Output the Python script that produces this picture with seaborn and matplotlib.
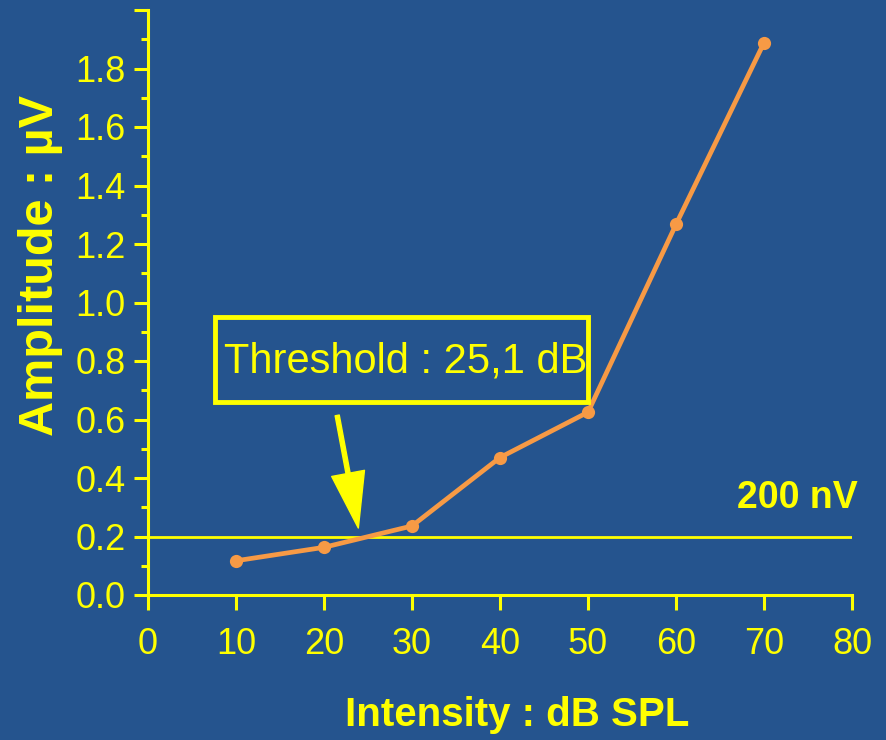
import matplotlib
matplotlib.use("Agg")
import matplotlib.pyplot as plt
import seaborn as sns
import pandas as pd
from matplotlib.patches import Rectangle
from matplotlib.ticker import MultipleLocator

# data
intensity = [10, 20, 30, 40, 50, 60, 70]
amplitude = [0.117, 0.163, 0.236, 0.47, 0.625, 1.267, 1.888]
x_ticks = [0, 10, 20, 30, 40, 50, 60, 70, 80]
y_ticks = [0.0, 0.2, 0.4, 0.6, 0.8, 1.0, 1.2, 1.4, 1.6, 1.8]
criterion = 0.2
threshold_db = 25.1

bg = '#25548e'
yellow = '#ffff00'
orange = '#f79a45'

sns.set_theme(style='ticks')
plt.rcParams['font.family'] = ['Liberation Sans', 'DejaVu Sans']

df = pd.DataFrame({'intensity': intensity, 'amplitude': amplitude})

fig = plt.figure(figsize=(8.86, 7.40), dpi=100, facecolor=bg)
ax = fig.add_axes([148 / 886, 145 / 740, 704 / 886, 585 / 740])
ax.set_facecolor(bg)

ax.axhline(criterion, color=yellow, lw=2.0, zorder=1)
sns.lineplot(data=df, x='intensity', y='amplitude', ax=ax, color=orange,
             lw=3.4, marker='o', markersize=9.5, markeredgewidth=0, zorder=3)

ax.set_xlim(0, 80)
ax.set_ylim(0, 2.0)
ax.set_xticks(x_ticks)
ax.set_xticklabels([str(t) for t in x_ticks])
ax.set_yticks(y_ticks + [2.0])
ax.set_yticklabels([f'{t:.1f}' for t in y_ticks] + [''])
ax.yaxis.set_minor_locator(MultipleLocator(0.1))

for side in ['top', 'right']:
    ax.spines[side].set_visible(False)
for side in ['left', 'bottom']:
    ax.spines[side].set_color(yellow)
    ax.spines[side].set_linewidth(2.2)

ax.tick_params(axis='both', which='major', colors=yellow, width=2.2,
               labelsize=26, labelcolor=yellow)
ax.tick_params(axis='y', which='major', length=10, pad=6)
ax.tick_params(axis='y', which='minor', length=5, width=2.2, colors=yellow)
ax.tick_params(axis='x', which='major', length=11, pad=12)

ax.set_xlabel('Intensity : dB SPL', color=yellow, fontsize=29,
              fontweight='bold')
ax.set_ylabel('Amplitude : µV', color=yellow, fontsize=35,
              fontweight='bold')
ax.xaxis.set_label_coords(0.524, -0.205)
ax.yaxis.set_label_coords(-0.152, 0.564)
ax.xaxis.label.set_va('center')
ax.yaxis.label.set_va('center')

# threshold box with arrow
ax.add_patch(Rectangle((7.6, 0.659), 42.4, 0.293, fill=False,
                       edgecolor=yellow, lw=3.5, clip_on=False, zorder=4))
ax.text(29.3, 0.797, f'Threshold : {threshold_db:.1f}'.replace('.', ',') + ' dB',
        color=yellow, fontsize=30, ha='center', va='center', zorder=5)
ax.annotate('', xy=(23.9, 0.229), xytext=(21.5, 0.614),
            arrowprops=dict(facecolor=yellow, edgecolor=yellow, width=3,
                            headwidth=24, headlength=40), zorder=5)

ax.text(73.8, 0.33, '200 nV', color=yellow, fontsize=27,
        fontweight='bold', ha='center', va='center')

fig.savefig('out.png', dpi=100, facecolor=bg)
